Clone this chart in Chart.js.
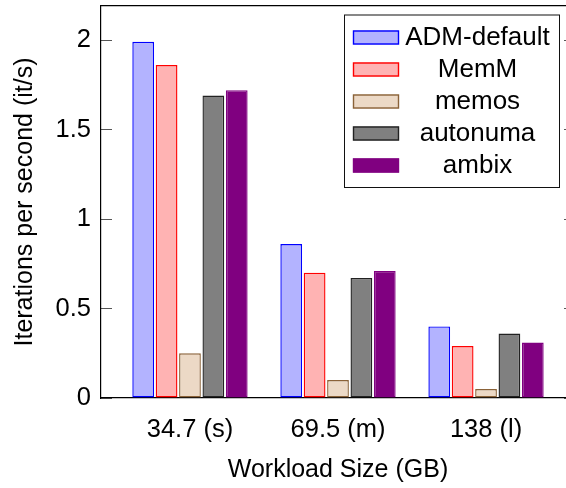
<!DOCTYPE html>
<html>
<head>
<meta charset="utf-8">
<script src="https://cdn.jsdelivr.net/npm/chart.js@4/dist/chart.umd.min.js"></script>
<style>
  html, body { margin: 0; padding: 0; background: #fff; overflow: hidden; }
  #wrap { width: 566px; height: 488px; overflow: hidden; }
  canvas { display: block; }
</style>
</head>
<body>
<div id="wrap"><canvas id="c" width="580" height="488"></canvas></div>
<script>
// Workload sizes (GB) and throughput per system (iterations per second)
const categories = ['34.7 (s)', '69.5 (m)', '138 (l)'];
const seriesNames = ['ADM-default', 'MemM', 'memos', 'autonuma', 'ambix'];
const admDefault = [1.99, 0.86, 0.40];
const memM       = [1.86, 0.70, 0.29];
const memos      = [0.25, 0.10, 0.05];
const autonuma   = [1.69, 0.67, 0.36];
const ambix      = [1.72, 0.71, 0.31];
const yTickValues = [0, 0.5, 1, 1.5, 2];

const FONT = 'Liberation Sans, Arial, Helvetica, sans-serif';
const fills   = ['#b3b3ff', '#ffb3b3', '#ecd9c6', '#808080', '#800080'];
const borders = ['#0000ff', '#ff0000', '#8a6238', '#222222', '#800080'];
const seriesValues = [admDefault, memM, memos, autonuma, ambix];

const datasets = seriesNames.map((name, s) => ({
  label: name,
  data: seriesValues[s].map((v, i) => ({ x: i, y: v })),
  backgroundColor: fills[s],
  borderColor: borders[s],
  borderWidth: 1.4,
  borderSkipped: false,
  categoryPercentage: 0.79,
  barPercentage: 0.93
}));

// Boxed legend drawn inside the plot, labels centred in their column
const boxedLegend = {
  id: 'boxedLegend',
  afterDraw(chart) {
    const ctx = chart.ctx;
    const box = { left: 344, top: 14.5, right: 559, bottom: 187 };
    ctx.save();
    ctx.fillStyle = '#ffffff';
    ctx.fillRect(box.left, box.top, box.right - box.left, box.bottom - box.top);
    ctx.strokeStyle = '#111';
    ctx.lineWidth = 1;
    ctx.strokeRect(box.left + 0.5, box.top + 0.5, box.right - box.left, box.bottom - box.top);
    ctx.font = '26px ' + FONT;
    ctx.textAlign = 'center';
    ctx.textBaseline = 'middle';
    chart.data.datasets.forEach((ds, i) => {
      const cy = 37.5 + i * 32;
      ctx.fillStyle = ds.backgroundColor;
      ctx.fillRect(353, cy - 7, 46, 14);
      ctx.strokeStyle = ds.borderColor;
      ctx.lineWidth = 1.4;
      ctx.strokeRect(353.5, cy - 6.5, 45, 13);
      ctx.fillStyle = '#000';
      ctx.fillText(ds.label, 477.5, cy);
    });
    ctx.restore();
  }
};

const xMin = -0.601, xMax = 2.601;
const yMax = 2.19;

// fixed axis box sizes, no extra room reserved for edge labels
const fixWidth = (w) => (axis) => { axis.width = w; axis.paddingTop = 0; axis.paddingBottom = 0; };
const fixHeight = (h) => (axis) => { axis.height = h; axis.paddingLeft = 0; axis.paddingRight = 0; };

new Chart(document.getElementById('c'), {
  type: 'bar',
  data: { datasets },
  options: {
    responsive: false,
    animation: false,
    devicePixelRatio: 1,
    layout: { padding: 0 },
    plugins: {
      legend: { display: false },
      tooltip: { enabled: false }
    },
    scales: {
      x: {
        type: 'linear',
        position: 'bottom',
        min: xMin,
        max: xMax,
        offset: false,
        afterBuildTicks: (axis) => { axis.ticks = categories.map((_, i) => ({ value: i })); },
        afterFit: fixHeight(90),
        grid: { display: false, drawTicks: false, offset: false },
        border: { display: true, color: '#000', width: 1.2 },
        ticks: {
          autoSkip: false,
          maxRotation: 0,
          padding: 17,
          color: '#000',
          font: { family: FONT, size: 25.5 },
          callback: (v) => categories[v] ?? ''
        },
        title: {
          display: true,
          text: 'Workload Size (GB)',
          color: '#000',
          font: { family: FONT, size: 25, lineHeight: 1.2 },
          padding: { top: 0, bottom: 3 }
        }
      },
      x2: {
        type: 'linear',
        position: 'top',
        min: xMin,
        max: xMax,
        offset: false,
        afterFit: fixHeight(6),
        grid: { display: false, drawTicks: false },
        border: { display: true, color: '#000', width: 1.2 },
        ticks: { display: false }
      },
      y: {
        type: 'linear',
        position: 'left',
        min: 0,
        max: yMax,
        afterBuildTicks: (axis) => { axis.ticks = yTickValues.map(v => ({ value: v })); },
        afterFit: fixWidth(101),
        grid: { display: true, drawOnChartArea: false, drawTicks: true, tickLength: -11, color: '#555', lineWidth: 1 },
        border: { display: true, color: '#000', width: 1.2 },
        ticks: {
          padding: 21,
          color: '#000',
          font: { family: FONT, size: 25.5 },
          callback: (v) => String(v)
        },
        title: {
          display: true,
          text: 'Iterations per second (it/s)',
          color: '#000',
          font: { family: FONT, size: 25, lineHeight: 1.2 },
          padding: { top: 10, bottom: 0 }
        }
      },
      y2: {
        type: 'linear',
        position: 'right',
        min: 0,
        max: yMax,
        afterBuildTicks: (axis) => { axis.ticks = yTickValues.map(v => ({ value: v })); },
        afterFit: fixWidth(5),
        grid: { display: true, drawOnChartArea: false, drawTicks: true, tickLength: -11, color: '#555', lineWidth: 1 },
        border: { display: true, color: '#000', width: 1 },
        ticks: { display: false }
      }
    }
  },
  plugins: [boxedLegend]
});
</script>
</body>
</html>
